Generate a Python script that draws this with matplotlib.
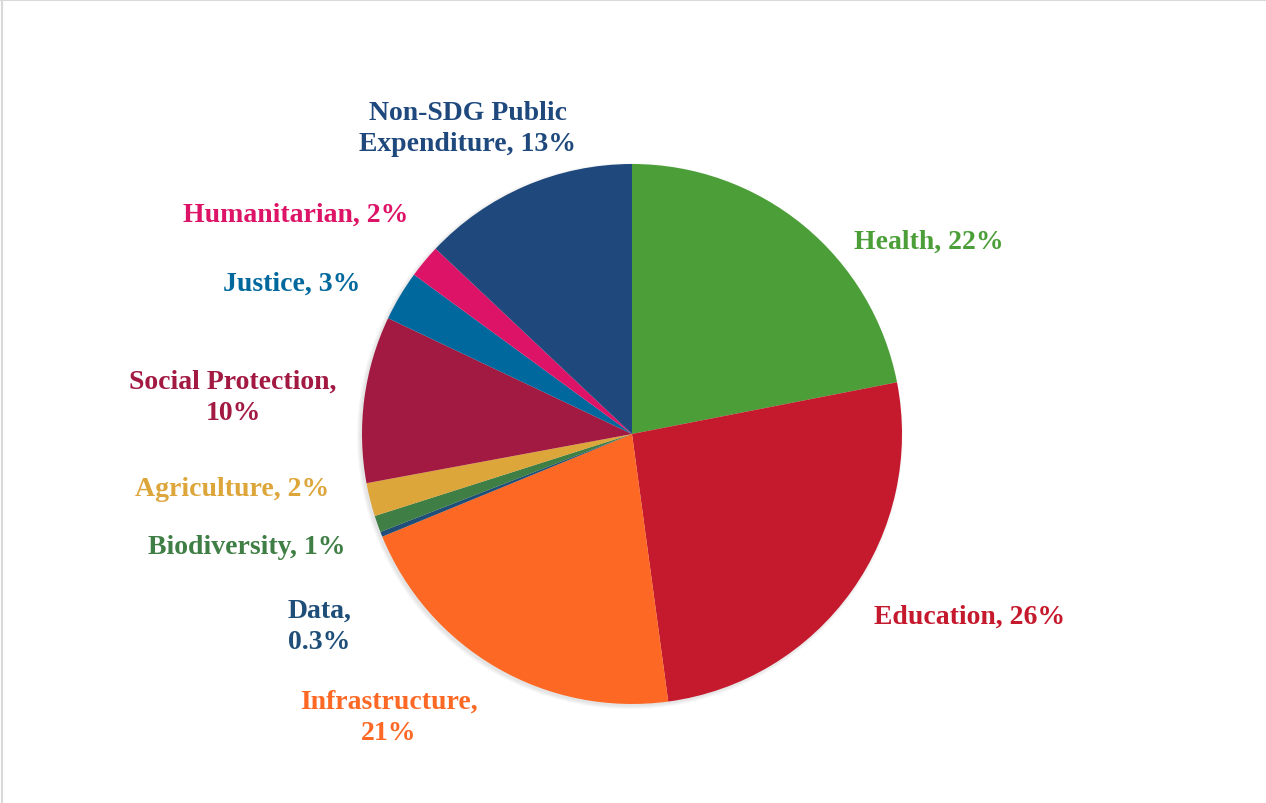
import numpy as np
import matplotlib.pyplot as plt
from matplotlib.patches import Circle

# spending shares, clockwise from 12 o'clock
sectors = ["Health", "Education", "Infrastructure", "Data", "Biodiversity",
           "Agriculture", "Social Protection", "Justice", "Humanitarian",
           "Non-SDG Public Expenditure"]
shares = [22, 26, 21, 0.3, 1, 2, 10, 3, 2, 13]
share_text = ["22%", "26%", "21%", "0.3%", "1%", "2%", "10%", "3%", "2%", "13%"]
colors = ["#4C9F38", "#C5192D", "#FD6925", "#1F4E79", "#3F7E44",
          "#DDA63A", "#A21942", "#00689D", "#DD1367", "#1F497D"]

W, H = 1266, 804
fig = plt.figure(figsize=(W / 100, H / 100), dpi=100)
ax = fig.add_axes([0, 0, 1, 1])

cx, cy, r = 632, H - 435, 270

# soft shadow under the pie
for k in range(4):
    ax.add_patch(Circle((cx - 2, cy - 2), r + 3 - k, color="#777777",
                        alpha=0.05, lw=0, zorder=0))

ax.pie(shares, colors=colors, startangle=90, counterclock=False,
       center=(cx, cy), radius=r, frame=True,
       wedgeprops=dict(linewidth=0))
ax.set_xlim(0, W)
ax.set_ylim(0, H)
ax.set_aspect("equal")
ax.axis("off")

# label placement (pixel coords from top)
label_pos = [(929, 242), (970, 617), (389, 718), (319, 627), (247, 548),
             (232, 490), (233, 398), (292, 284), (296, 215), (468, 129)]
label_txt = ["Health, {}", "Education, {}", "Infrastructure,\n{}", "Data,\n{}",
             "Biodiversity, {}", "Agriculture, {}", "Social Protection,\n{}",
             "Justice, {}", "Humanitarian, {}", "Non-SDG Public\nExpenditure, {}"]
for fmt, pct, (x, y), c in zip(label_txt, share_text, label_pos, colors):
    ax.text(x, H - y, fmt.format(pct), color=c, ha="center", va="center",
            fontsize=20, fontweight="bold", family="Liberation Serif",
            linespacing=1.3)

# frame edges
fig.add_artist(plt.Line2D([0.0015, 0.0015], [0, 1], color="#d9d9d9", lw=1.5))
fig.add_artist(plt.Line2D([0, 1], [0.9985, 0.9985], color="#d9d9d9", lw=1.5))

fig.savefig("out.png", dpi=100, facecolor="white")
